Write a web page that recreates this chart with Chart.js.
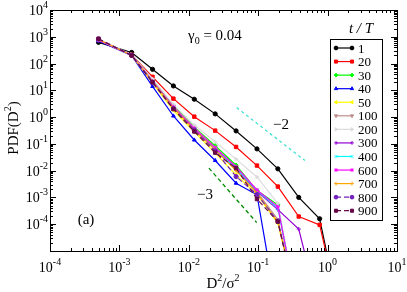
<!DOCTYPE html>
<html>
<head>
<meta charset="utf-8">
<script src="https://cdn.jsdelivr.net/npm/chart.js@4.4.1/dist/chart.umd.min.js"></script>
<style>
  body { margin: 0; background: #fff; }
  #wrap { position: relative; width: 407px; height: 292px; }
</style>
</head>
<body>
<div id="wrap"><canvas id="pdf"></canvas></div>
<script>
// D^2/sigma^2 bin centres (shared by all curves)
var dsq = [0.0005, 0.0015, 0.003, 0.006, 0.012, 0.024, 0.048, 0.096, 0.192, 0.384, 0.768, 1.536];

// PDF(D^2) for each t/T
var t_labels = ["1", "20", "30", "40", "50", "100", "200", "300", "400", "600", "700", "800", "900"];
var pdf_1   = [620, 260, 61, 14.6, 4.65, 1.32, 0.305, 0.065, 0.0117, 1.0e-3, 1.6e-4, 3e-8];
var pdf_20  = [760, 215, 32, 4.9, 1.04, 0.313, 0.077, 0.0155, 2.55e-3, 1.94e-4, 9.5e-5, 4e-8];
var pdf_30  = [780, 210, 24, 2.6, 0.42, 0.085, 0.016, 1.8e-3, 5.3e-4, 3e-8];
var pdf_40  = [700, 200, 14, 1.1, 0.14, 0.024, 3.4e-3, 1.25e-3, 4e-8];
var pdf_50  = [790, 205, 19, 1.8, 0.28, 0.045, 7e-3, 1.3e-3, 1.1e-4, 6e-8];
var pdf_100 = [770, 210, 23, 2.5, 0.4, 0.075, 0.013, 1.6e-3, 1.5e-4, 5e-8];
var pdf_200 = [800, 215, 27, 3.0, 0.5, 0.12, 0.027, 5.8e-3, 6e-4, 4e-8];
var pdf_300 = [740, 205, 21, 2.2, 0.35, 0.06, 0.011, 1.7e-3, 3.5e-4, 6.6e-5, 5e-8];
var pdf_400 = [760, 210, 22, 2.3, 0.36, 0.065, 0.012, 1.8e-3, 4e-4, 5e-8];
var pdf_600 = [750, 210, 22, 2.4, 0.38, 0.07, 0.014, 1.9e-3, 4.5e-4, 4e-8];
var pdf_700 = [780, 205, 21, 2.2, 0.33, 0.06, 0.01, 1.45e-3, 1.2e-4, 8e-8];
var pdf_800 = [820, 205, 20, 2.1, 0.33, 0.055, 6e-3, 1.3e-3, 1.3e-4, 5e-8];
var pdf_900 = [850, 200, 20, 2.0, 0.29, 0.047, 0.0124, 8.7e-4, 1.25e-4, 5e-8];

// guide lines, slope -2 and -3
var slope2_x = [0.049, 0.472];
var slope2_y = [2.26, 0.0238];
var slope3_x = [0.0195, 0.095];
var slope3_y = [0.0124, 1.16e-4];

var x_ticks = [-4, -3, -2, -1, 0, 1];
var y_ticks = [-4, -3, -2, -1, 0, 1, 2, 3, 4];

var all_pdf = [pdf_1, pdf_20, pdf_30, pdf_40, pdf_50, pdf_100, pdf_200, pdf_300, pdf_400, pdf_600, pdf_700, pdf_800, pdf_900];
var colori = ['#000000', '#ff0000', '#00ff00', '#0000ff', '#ffff00', '#bc8f8f', '#dcdcdc', '#9400d3', '#00ffff', '#ff00ff', '#ffa500', '#7221bc', '#670748'];
var simboli = ['circle', 'rect', 'rectRot', 'triangle', 'triangle', 'triangle', 'triangle', 'cross', 'crossRot', 'star', 'cross', 'circle', 'rect'];
var rotazioni = [0, 0, 0, 0, -90, 180, 90, 0, 0, 0, 0, 0, 0];

function pairs(xs, ys) {
  var out = [];
  for (var i = 0; i < ys.length; i++) out.push({x: xs[i], y: ys[i]});
  return out;
}

var datasets = all_pdf.map(function (serie, i) {
  var dashed = i >= 11;
  return {
    label: t_labels[i],
    data: pairs(dsq, serie),
    borderColor: colori[i],
    backgroundColor: colori[i],
    borderWidth: 1.2,
    borderDash: dashed ? [5, 3] : [],
    pointStyle: simboli[i],
    pointRotation: rotazioni[i],
    pointRadius: simboli[i] === 'rect' ? 2.4 : 2.1,
    pointBorderWidth: 1,
    order: 40 - i
  };
});

datasets.push({
  label: 'slope2', data: pairs(slope2_x, slope2_y), borderColor: '#40e0d0',
  borderWidth: 1.3, borderDash: [3, 3], pointRadius: 0, order: 1
});
datasets.push({
  label: 'slope3', data: pairs(slope3_x, slope3_y), borderColor: '#008b00',
  borderWidth: 1.3, borderDash: [4, 3], pointRadius: 0, order: 1
});

var FONT = '"Liberation Serif", "Times New Roman", serif';

function richText(ctx, parts, x, y, align) {
  var w = 0;
  parts.forEach(function (p) {
    ctx.font = (p[3] || '') + p[1] + 'px ' + FONT;
    w += ctx.measureText(p[0]).width;
  });
  var cx = align === 'center' ? x - w / 2 : (align === 'right' ? x - w : x);
  ctx.textAlign = 'left';
  ctx.textBaseline = 'alphabetic';
  parts.forEach(function (p) {
    ctx.font = (p[3] || '') + p[1] + 'px ' + FONT;
    ctx.fillText(p[0], cx, y + p[2]);
    cx += ctx.measureText(p[0]).width;
  });
}

function seg(ctx, x1, y1, x2, y2) {
  ctx.beginPath(); ctx.moveTo(x1, y1); ctx.lineTo(x2, y2); ctx.stroke();
}

// frame, inward ticks, labels, legend
var decorazioni = {
  id: 'decorazioni',
  afterDraw: function (chart) {
    var ctx = chart.ctx, a = chart.chartArea, xs = chart.scales.x, ys = chart.scales.y;
    ctx.save();
    ctx.strokeStyle = '#000'; ctx.fillStyle = '#000'; ctx.lineWidth = 1; ctx.setLineDash([]);
    ctx.strokeRect(a.left + 0.5, a.top + 0.5, a.right - a.left, a.bottom - a.top);

    var e, m, v, p, len;
    for (e = -4; e <= 1; e++) {
      for (m = 1; m <= 9; m++) {
        v = Number((m * Math.pow(10, e)).toPrecision(3));
        if (v > 10.0001) break;
        p = Math.round(xs.getPixelForValue(v)) + 0.5;
        len = m === 1 ? 6 : 3;
        seg(ctx, p, a.bottom, p, a.bottom - len);
        seg(ctx, p, a.top, p, a.top + len);
      }
    }
    for (e = -5; e <= 4; e++) {
      for (m = 1; m <= 9; m++) {
        v = Number((m * Math.pow(10, e)).toPrecision(3));
        if (v > 1e4 * 1.0001) break;
        p = Math.round(ys.getPixelForValue(v)) + 0.5;
        len = m === 1 ? 6 : 3;
        seg(ctx, a.left, p, a.left + len, p);
        seg(ctx, a.right, p, a.right - len, p);
      }
    }

    x_ticks.forEach(function (k) {
      var px = xs.getPixelForValue(Math.pow(10, k));
      richText(ctx, [['10', 14, 0], [String(k), 10, -7]], px, 272, 'center');
    });
    y_ticks.forEach(function (k) {
      var py = ys.getPixelForValue(Math.pow(10, k));
      richText(ctx, [['10', 14, 0], [String(k), 10, -7]], a.left - 2, py + 5, 'right');
    });

    // axis titles
    richText(ctx, [['D', 15, 0], ['2', 10, -7], ['/\u03c3', 15, 0], ['2', 10, -7]], 223, 288, 'center');
    ctx.save();
    ctx.translate(18, 128);
    ctx.rotate(-Math.PI / 2);
    richText(ctx, [['PDF(D', 15, 0], ['2', 10, -7], [')', 15, 0]], 0, 0, 'center');
    ctx.restore();

    // annotations
    richText(ctx, [['\u03b3', 15, 0], ['0', 10, 4], [' = 0.04', 15, 0]], 188, 40, 'left');
    richText(ctx, [['\u22122', 15, 0]], 281, 129, 'center');
    richText(ctx, [['\u22123', 15, 0]], 205, 199, 'center');
    richText(ctx, [['(a)', 15, 0]], 86, 224, 'center');

    // legend
    richText(ctx, [['t / T', 15, 0, 'italic ']], 361, 33, 'center');
    ctx.strokeStyle = '#000'; ctx.lineWidth = 1;
    ctx.strokeRect(330.5, 39.5, 52, 181);
    for (var i = 0; i < 13; i++) {
      var ds = chart.data.datasets[i];
      var ly = 48 + i * 13.56;
      ctx.strokeStyle = ds.borderColor; ctx.fillStyle = ds.backgroundColor;
      ctx.lineWidth = 1.2;
      ctx.setLineDash(ds.borderDash);
      seg(ctx, 336, ly, 352, ly);
      ctx.setLineDash([]);
      ctx.lineWidth = 1;
      [336, 352].forEach(function (lx) {
        Chart.helpers.drawPoint(ctx, {
          pointStyle: ds.pointStyle, rotation: ds.pointRotation,
          radius: ds.pointRadius * 0.9, borderWidth: 1
        }, lx, ly);
      });
      ctx.fillStyle = '#000';
      richText(ctx, [[ds.label, 13, 0]], 358, ly + 4.5, 'left');
    }
    ctx.restore();
  }
};

var chart = new Chart(document.getElementById('pdf'), {
  type: 'line',
  data: { datasets: datasets },
  options: {
    responsive: true,
    maintainAspectRatio: false,
    devicePixelRatio: 1,
    animation: false,
    layout: { padding: { left: 50, top: 10, right: 10, bottom: 41 } },
    scales: {
      x: { type: 'logarithmic', min: 1e-4, max: 10, display: false },
      y: { type: 'logarithmic', min: 1e-5, max: 1e4, display: false }
    },
    plugins: { legend: { display: false }, tooltip: { enabled: false } }
  },
  plugins: [decorazioni]
});
</script>
</body>
</html>
